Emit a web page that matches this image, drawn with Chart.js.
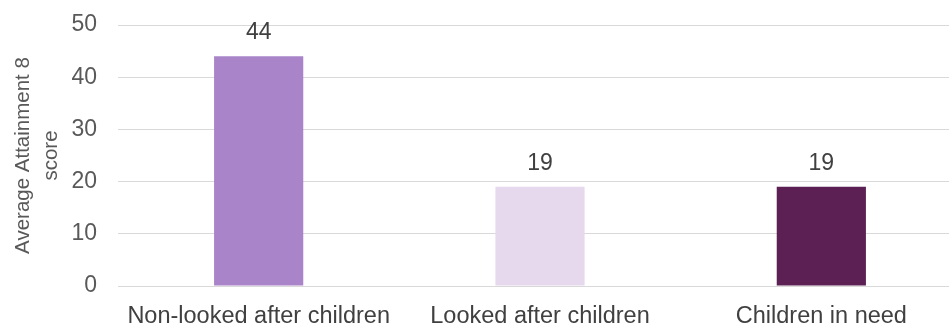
<!DOCTYPE html>
<html><head><meta charset="utf-8">
<script src="https://cdn.jsdelivr.net/npm/chart.js@4/dist/chart.umd.min.js"></script>
<style>html,body{margin:0;padding:0;overflow:hidden;background:#fff}#wrap{width:962px;height:325px}</style>
</head><body><div id="wrap"><canvas id="c" width="962" height="325"></canvas></div>
<script>
const categories = ['Non-looked after children', 'Looked after children', 'Children in need'];
const scores = [44, 19, 19];
const barColors = ['#A984C8', '#E6D9EE', '#5C2055'];
const yTitle = ['Average Attainment 8', 'score'];
const FONT = '"Liberation Sans", Arial, sans-serif';

const labelPlugin = {
  id: 'valueLabels',
  afterDatasetsDraw(chart) {
    const ctx = chart.ctx;
    const meta = chart.getDatasetMeta(0);
    ctx.save();
    ctx.font = '23px ' + FONT;
    ctx.fillStyle = '#404040';
    ctx.textAlign = 'center';
    ctx.textBaseline = 'alphabetic';
    meta.data.forEach((bar, i) => {
      ctx.fillText(String(scores[i]), bar.x, bar.y - 17);
    });
    ctx.restore();
  }
};

new Chart(document.getElementById('c'), {
  type: 'bar',
  data: { labels: categories, datasets: [{ data: scores, backgroundColor: barColors, categoryPercentage: 1, barPercentage: 0.317 }] },
  options: {
    responsive: false, animation: false,
    layout: { padding: { left: 0, top: 25, bottom: 0, right: 0 } },
    plugins: { legend: { display: false }, tooltip: { enabled: false } },
    scales: {
      x: {
        grid: { display: false },
        border: { display: false },
        ticks: { color: '#404040', font: { family: FONT, size: 23.5 }, padding: 8, maxRotation: 0, autoSkip: false },
        afterFit(scale) { scale.height = 39; }
      },
      y: {
        min: 0, max: 50,
        ticks: { stepSize: 10, color: '#595959', font: { family: FONT, size: 23 }, padding: 21 },
        grid: { color: '#D9D9D9', lineWidth: 1, drawTicks: false },
        border: { display: false },
        title: { display: true, text: yTitle, color: '#595959', font: { family: FONT, size: 20.5, lineHeight: 1.35 }, padding: { top: 10, bottom: 0 } },
        afterFit(scale) { scale.width = 118; scale.paddingTop = 0; scale.paddingBottom = 0; }
      }
    }
  },
  plugins: [labelPlugin]
});
</script></body></html>
